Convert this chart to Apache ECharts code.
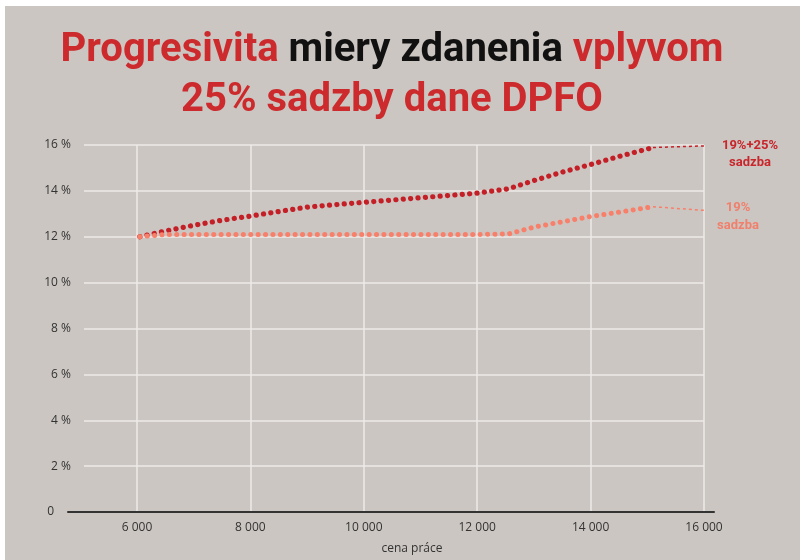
<!DOCTYPE html>
<html><head><meta charset="utf-8">
<script src="https://cdn.jsdelivr.net/npm/echarts@6/dist/echarts.min.js"></script>
<style>
html,body{margin:0;padding:0;background:#fff;width:800px;height:560px;overflow:hidden}
#c{position:absolute;left:5px;top:6px;width:795px;height:554px;background:#cbc6c2}
</style></head>
<body><div id="c"></div>
<script>
// cena práce (x) and effective tax rate in %
const cenaPrace  = [6050, 6500, 7000, 7500, 8000, 8500, 9000, 9500, 10000, 10500, 11000, 11500, 12000, 12550, 13000, 13500, 14000, 14500, 15100];
const sadzba1925 = [12.0, 12.25, 12.5, 12.72, 12.9, 13.1, 13.29, 13.4, 13.5, 13.6, 13.7, 13.8, 13.9, 14.09, 14.45, 14.82, 15.15, 15.5, 15.89];
const sadzba19   = [12.0, 12.1, 12.1, 12.1, 12.1, 12.1, 12.1, 12.1, 12.1, 12.1, 12.1, 12.1, 12.1, 12.12, 12.42, 12.65, 12.88, 13.07, 13.31];
// dotted extension to the right edge
const extX    = [15100, 16000];
const ext1925 = [15.89, 15.96];
const ext19   = [13.31, 13.15];

const seriesNames = ['19%+25%\nsadzba', '19%\nsadzba'];
const titleLine1 = ['Progresivita', 'miery zdanenia', 'vplyvom'];
const titleLine2 = '25% sadzby dane DPFO';
const xName = 'cena práce';

const DARK = '#c41f26', ORANGE = '#f8806a';
const FONT = 'Roboto, "Open Sans", sans-serif';
const AXFONT = '"Open Sans", Roboto, sans-serif';

const pairs = (xs, ys) => xs.map((x, i) => [x, ys[i]]);
const fmtThousands = v => String(v).replace(/\B(?=(\d{3})+(?!\d))/g, ' ');

const chart = echarts.init(document.getElementById('c'), null, {renderer: 'canvas'});
chart.setOption({
  backgroundColor: '#cbc6c2',
  animation: false,
  textStyle: {fontFamily: AXFONT},
  graphic: [
    {type: 'text', x: 387, y: 45, style: {
      text: '{r|' + titleLine1[0] + '} {k|' + titleLine1[1] + '} {r|' + titleLine1[2] + '}',
      align: 'center', verticalAlign: 'middle',
      fontFamily: FONT, fontWeight: 'bold', fontSize: 40,
      rich: {
        r: {fill: '#cc2a2c', fontFamily: FONT, fontWeight: 'bold', fontSize: 40},
        k: {fill: '#111111', fontFamily: FONT, fontWeight: 'bold', fontSize: 40}
      }
    }},
    {type: 'text', x: 387, y: 95, style: {
      text: titleLine2, align: 'center', verticalAlign: 'middle',
      fill: '#cc2a2c', fontFamily: FONT, fontWeight: 'bold', fontSize: 40
    }}
  ],
  grid: [
    {left: 79, top: 139, right: 96, bottom: 48},
    {left: 63, top: 139, right: 86, bottom: 48}
  ],
  xAxis: [
    {type: 'value', gridIndex: 0, min: 5066, max: 16000, splitNumber: 5,
     axisLine: {show: false}, axisTick: {show: false},
     axisLabel: {color: '#333', fontSize: 12, margin: 10, showMinLabel: false, formatter: fmtThousands},
     splitLine: {show: true, showMinLine: false, lineStyle: {color: '#eeeae7', width: 1.5}},
     name: xName, nameLocation: 'middle', nameGap: 31,
     nameTextStyle: {color: '#333', fontSize: 12, padding: [0, 0, 0, 36]}},
    {type: 'value', gridIndex: 1, min: 0, max: 1,
     axisLine: {show: true, lineStyle: {color: '#333', width: 2}},
     axisTick: {show: false}, axisLabel: {show: false}, splitLine: {show: false}}
  ],
  yAxis: [
    {type: 'value', gridIndex: 0, min: 0, max: 16, interval: 2,
     axisLine: {show: false}, axisTick: {show: false},
     axisLabel: {color: '#333', fontSize: 12, margin: 13, formatter: v => v === 0 ? '' : v + ' %'},
     splitLine: {show: true, lineStyle: {color: '#eeeae7', width: 1.5}}},
    {type: 'value', gridIndex: 1, min: 0, max: 16, interval: 2,
     axisLine: {show: false}, axisTick: {show: false}, splitLine: {show: false},
     axisLabel: {color: '#333', fontSize: 12, margin: 14, formatter: v => v === 0 ? '0' : ''}}
  ],
  series: [
    {type: 'line', name: seriesNames[0], data: pairs(cenaPrace, sadzba1925), showSymbol: false,
     lineStyle: {color: DARK, width: 5.2, type: [0.1, 7.3], cap: 'round'}},
    {type: 'line', name: seriesNames[1], data: pairs(cenaPrace, sadzba19), showSymbol: false,
     lineStyle: {color: ORANGE, width: 5, type: [0.1, 7.3], cap: 'round'}},
    {type: 'line', data: pairs(extX, ext1925), showSymbol: false,
     lineStyle: {color: DARK, width: 1.5, type: [3, 3]},
     endLabel: {show: true, formatter: seriesNames[0], distance: 0, offset: [46, 8], align: 'center',
       color: '#c8262b', fontWeight: 'bold', fontSize: 13, lineHeight: 17, fontFamily: FONT}},
    {type: 'line', data: pairs(extX, ext19), showSymbol: false,
     lineStyle: {color: ORANGE, width: 1.5, type: [3, 3]},
     endLabel: {show: true, formatter: seriesNames[1], distance: 0, offset: [34, 6], align: 'center',
       color: '#f0806c', fontWeight: 'bold', fontSize: 13, lineHeight: 18, fontFamily: FONT}}
  ]
});
</script></body></html>
